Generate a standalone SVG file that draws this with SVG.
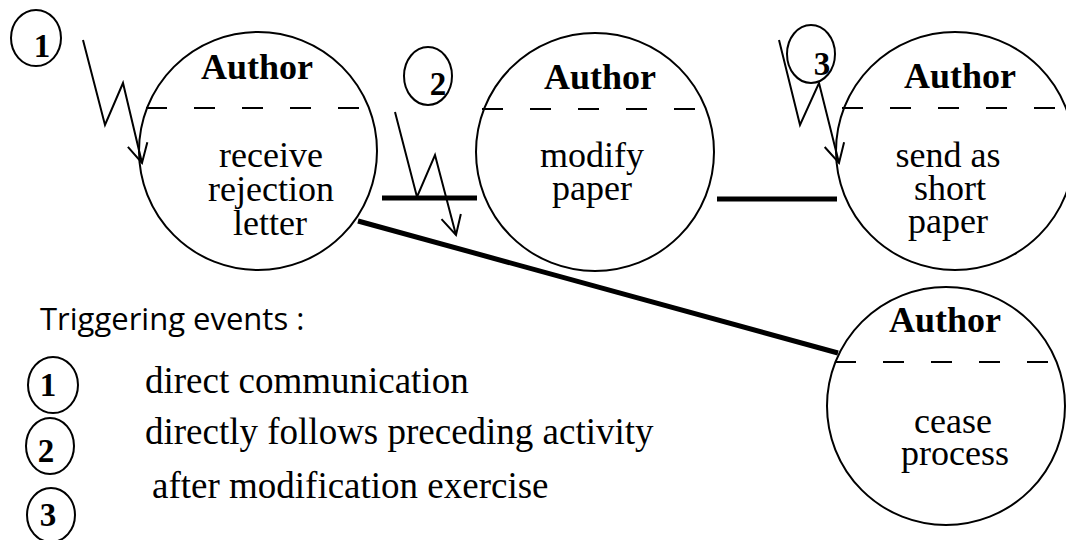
<svg xmlns="http://www.w3.org/2000/svg" width="1066" height="540" viewBox="0 0 1066 540">
  <style>
    .bubble { fill: none; stroke: #000; stroke-width: 2; }
    .divider { stroke: #000; stroke-width: 2; stroke-dasharray: 21 27; }
    .role { font-family: "Liberation Serif", "Times New Roman", serif; font-weight: bold; font-size: 36px; text-anchor: middle; fill: #000; }
    .task { font-family: "Liberation Serif", "Times New Roman", serif; font-size: 36px; text-anchor: middle; fill: #000; }
    .num { font-family: "Liberation Serif", "Times New Roman", serif; font-weight: bold; font-size: 33px; text-anchor: middle; fill: #000; }
    .tag { fill: none; stroke: #000; stroke-width: 2; }
    .bolt { fill: none; stroke: #000; stroke-width: 2; stroke-linejoin: miter; marker-end: url(#openHead); }
    .link { stroke: #000; stroke-width: 5; fill: none; }
    .caption { font-family: "Open Sans", "Noto Sans", sans-serif; font-size: 31px; fill: #000; }
    .legend { font-family: "Liberation Serif", "Times New Roman", serif; font-size: 37px; fill: #000; }
  </style>
  <defs>
    <marker id="openHead" markerUnits="userSpaceOnUse" markerWidth="30" markerHeight="30" refX="0" refY="0" orient="auto" overflow="visible">
      <path d="M-19,-10 L0,0 L-19,10" fill="none" stroke="#000" stroke-width="2"/>
    </marker>
  </defs>

  <!-- connectors between activities -->
  <g id="connectors">
    <line class="link" x1="382" y1="198" x2="477" y2="198"/>
    <line class="link" x1="717" y1="199" x2="837" y2="199"/>
    <line class="link" x1="358" y1="221" x2="838" y2="353"/>
  </g>

  <!-- activity bubbles -->
  <g id="receive-rejection">
    <circle class="bubble" cx="258" cy="151" r="119"/>
    <line class="divider" x1="146" y1="108" x2="370" y2="108"/>
    <text class="role" x="257" y="79">Author</text>
    <text class="task" x="271" y="167">receive</text>
    <text class="task" x="271" y="201">rejection</text>
    <text class="task" x="270" y="235">letter</text>
  </g>

  <g id="modify-paper">
    <circle class="bubble" cx="595" cy="152" r="119"/>
    <line class="divider" x1="482" y1="109" x2="706" y2="109"/>
    <text class="role" x="600" y="89">Author</text>
    <text class="task" x="592" y="167">modify</text>
    <text class="task" x="592" y="200">paper</text>
  </g>

  <g id="send-short-paper">
    <circle class="bubble" cx="955" cy="151" r="119"/>
    <line class="divider" x1="842" y1="108" x2="1066" y2="108"/>
    <text class="role" x="960" y="88">Author</text>
    <text class="task" x="948" y="167">send as</text>
    <text class="task" x="950" y="200">short</text>
    <text class="task" x="948" y="233">paper</text>
  </g>

  <g id="cease-process">
    <circle class="bubble" cx="946" cy="406" r="119"/>
    <line class="divider" x1="835" y1="362" x2="1058" y2="362"/>
    <text class="role" x="945" y="332">Author</text>
    <text class="task" x="953" y="433">cease</text>
    <text class="task" x="955" y="465">process</text>
  </g>

  <!-- triggering events on the activities -->
  <g id="trigger-1">
    <ellipse class="tag" cx="36" cy="38" rx="25" ry="28"/>
    <text class="num" x="42" y="57">1</text>
    <polyline class="bolt" points="83,40 105,125 123,83 142,163"/>
  </g>

  <g id="trigger-2">
    <ellipse class="tag" cx="428" cy="76" rx="24" ry="29"/>
    <text class="num" x="438" y="95">2</text>
    <polyline class="bolt" points="395,112 417,197 435,155 456,235"/>
  </g>

  <g id="trigger-3">
    <ellipse class="tag" cx="811" cy="54" rx="24" ry="29"/>
    <text class="num" x="822" y="75">3</text>
    <polyline class="bolt" points="779,40 800,125 819,83 839,163"/>
  </g>

  <!-- legend -->
  <g id="legend">
    <text class="caption" x="40" y="330">Triggering events :</text>
    <ellipse class="tag" cx="53" cy="385" rx="25" ry="28"/>
    <text class="num" x="48" y="396">1</text>
    <text class="legend" x="145" y="393">direct communication</text>
    <ellipse class="tag" cx="50" cy="446" rx="24" ry="28"/>
    <text class="num" x="46" y="462">2</text>
    <text class="legend" x="145" y="444">directly follows preceding activity</text>
    <ellipse class="tag" cx="51" cy="515" rx="24" ry="27"/>
    <text class="num" x="48" y="526">3</text>
    <text class="legend" x="152" y="498">after modification exercise</text>
  </g>
</svg>
